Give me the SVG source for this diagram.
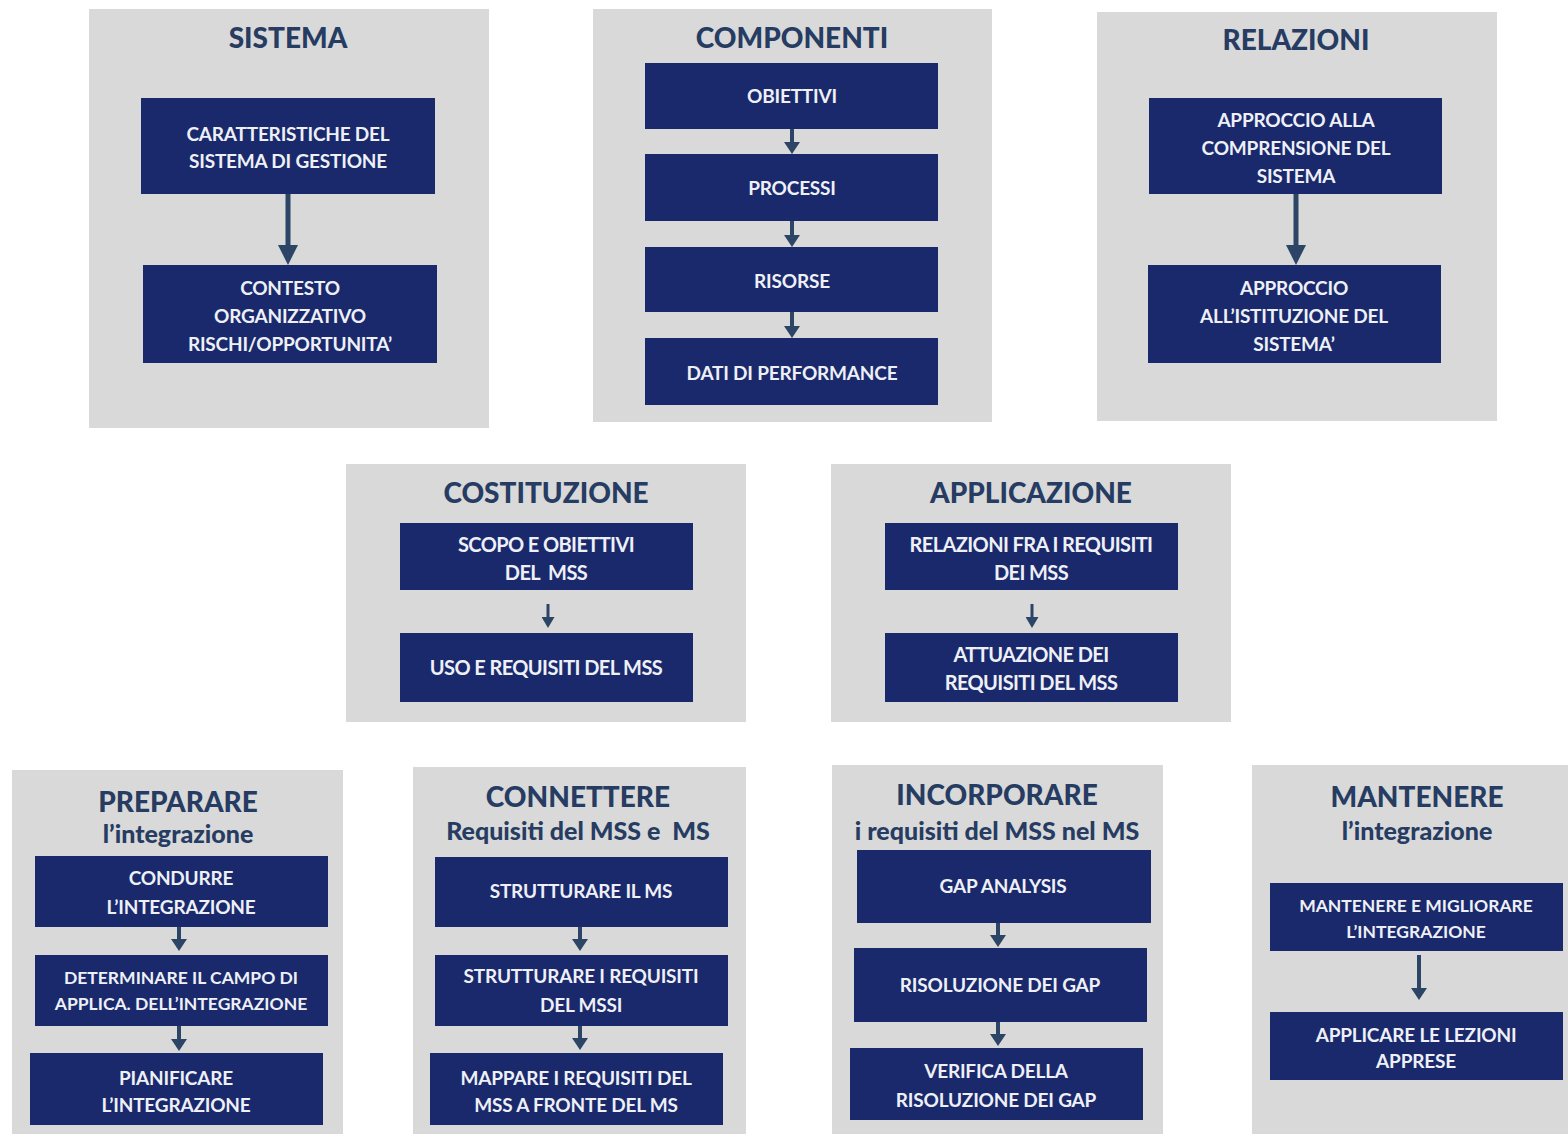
<svg xmlns="http://www.w3.org/2000/svg" width="1568" height="1134" viewBox="0 0 1568 1134">
<defs>
<style>
.panel{fill:#d9d9d9}
.box{fill:#19296b}
.title{font-family:Lato,"Open Sans",sans-serif;font-weight:900;font-size:28px;fill:#263c62;text-anchor:middle}
.sub{font-family:Lato,"Open Sans",sans-serif;font-weight:900;font-size:25px;fill:#263c62;text-anchor:middle}
.t{font-family:Lato,"Open Sans",sans-serif;font-weight:700;font-size:19px;fill:#eef0f6;text-anchor:middle;letter-spacing:-0.2px}
.tm{font-family:Lato,"Open Sans",sans-serif;font-weight:700;font-size:20px;fill:#eef0f6;text-anchor:middle;letter-spacing:-0.6px}
.ts{font-family:Lato,"Open Sans",sans-serif;font-weight:700;font-size:17.5px;fill:#eef0f6;text-anchor:middle}
.big{stroke:#2c4566;stroke-width:5;fill:none}
.sm{stroke:#2c4566;stroke-width:4;fill:none}
.tn{stroke:#2c4566;stroke-width:3;fill:none}
</style>
<marker id="hb" markerUnits="userSpaceOnUse" viewBox="0 0 20 20" markerWidth="20" markerHeight="20" refX="0" refY="10" orient="auto"><path d="M0,0 L20,10 L0,20 Z" fill="#2c4566"/></marker>
<marker id="hs" markerUnits="userSpaceOnUse" viewBox="0 0 12 16" markerWidth="12" markerHeight="16" refX="0" refY="8" orient="auto"><path d="M0,0 L12,8 L0,16 Z" fill="#2c4566"/></marker>
<marker id="ht" markerUnits="userSpaceOnUse" viewBox="0 0 11 13" markerWidth="11" markerHeight="13" refX="0" refY="6.5" orient="auto"><path d="M0,0 L11,6.5 L0,13 Z" fill="#2c4566"/></marker>
</defs>

<g id="panels">
<rect class="panel" x="89" y="9" width="400" height="419"/>
<rect class="panel" x="593" y="9" width="399" height="413"/>
<rect class="panel" x="1097" y="12" width="400" height="409"/>
<rect class="panel" x="346" y="464" width="400" height="258"/>
<rect class="panel" x="831" y="464" width="400" height="258"/>
<rect class="panel" x="12" y="770" width="331" height="364"/>
<rect class="panel" x="413" y="767" width="333" height="367"/>
<rect class="panel" x="832" y="765" width="331" height="369"/>
<rect class="panel" x="1252" y="765" width="316" height="369"/>
</g>

<g id="titles">
<text class="title" x="288" y="48">SISTEMA</text>
<text class="title" x="792" y="48">COMPONENTI</text>
<text class="title" x="1296" y="50">RELAZIONI</text>
<text class="title" x="546" y="503">COSTITUZIONE</text>
<text class="title" x="1031" y="503">APPLICAZIONE</text>
<text class="title" x="178" y="812">PREPARARE</text>
<text class="sub" x="178" y="843">l’integrazione</text>
<text class="title" x="578" y="807">CONNETTERE</text>
<text class="sub" x="578" y="840" xml:space="preserve">Requisiti del MSS e  MS</text>
<text class="title" x="997" y="805">INCORPORARE</text>
<text class="sub" x="997" y="840">i requisiti del MSS nel MS</text>
<text class="title" x="1417" y="807">MANTENERE</text>
<text class="sub" x="1417" y="840">l’integrazione</text>
</g>

<g id="connectors">
<line class="big" x1="288" y1="194" x2="288" y2="245" marker-end="url(#hb)"/>
<line class="big" x1="1296" y1="194" x2="1296" y2="245" marker-end="url(#hb)"/>
<line class="sm" x1="792" y1="129" x2="792" y2="142" marker-end="url(#hs)"/>
<line class="sm" x1="792" y1="221" x2="792" y2="235" marker-end="url(#hs)"/>
<line class="sm" x1="792" y1="312" x2="792" y2="326" marker-end="url(#hs)"/>
<line class="tn" x1="548" y1="604" x2="548" y2="617" marker-end="url(#ht)"/>
<line class="tn" x1="1032" y1="604" x2="1032" y2="617" marker-end="url(#ht)"/>
<line class="sm" x1="179" y1="927" x2="179" y2="939" marker-end="url(#hs)"/>
<line class="sm" x1="179" y1="1026" x2="179" y2="1039" marker-end="url(#hs)"/>
<line class="sm" x1="580" y1="927" x2="580" y2="939" marker-end="url(#hs)"/>
<line class="sm" x1="580" y1="1026" x2="580" y2="1038" marker-end="url(#hs)"/>
<line class="sm" x1="998" y1="923" x2="998" y2="935" marker-end="url(#hs)"/>
<line class="sm" x1="998" y1="1022" x2="998" y2="1034" marker-end="url(#hs)"/>
<line class="sm" x1="1419" y1="955" x2="1419" y2="988" marker-end="url(#hs)"/>
</g>

<g id="n-sistema-1"><rect class="box" x="141" y="98" width="294" height="96"/>
<text class="t" x="288" y="141">CARATTERISTICHE DEL</text>
<text class="t" x="288" y="168">SISTEMA DI GESTIONE</text></g>
<g id="n-sistema-2"><rect class="box" x="143" y="265" width="294" height="98"/>
<text class="t" x="290" y="295">CONTESTO</text>
<text class="t" x="290" y="323">ORGANIZZATIVO</text>
<text class="t" x="290" y="351">RISCHI/OPPORTUNITA’</text></g>

<g id="n-comp-1"><rect class="box" x="645" y="63" width="293" height="66"/>
<text class="t" x="792" y="103">OBIETTIVI</text></g>
<g id="n-comp-2"><rect class="box" x="645" y="154" width="293" height="67"/>
<text class="t" x="792" y="195">PROCESSI</text></g>
<g id="n-comp-3"><rect class="box" x="645" y="247" width="293" height="65"/>
<text class="t" x="792" y="288">RISORSE</text></g>
<g id="n-comp-4"><rect class="box" x="645" y="338" width="293" height="67"/>
<text class="t" x="792" y="380">DATI DI PERFORMANCE</text></g>

<g id="n-rel-1"><rect class="box" x="1149" y="98" width="293" height="96"/>
<text class="t" x="1296" y="127">APPROCCIO ALLA</text>
<text class="t" x="1296" y="155">COMPRENSIONE DEL</text>
<text class="t" x="1296" y="183">SISTEMA</text></g>
<g id="n-rel-2"><rect class="box" x="1148" y="265" width="293" height="98"/>
<text class="t" x="1294" y="295">APPROCCIO</text>
<text class="t" x="1294" y="323">ALL’ISTITUZIONE DEL</text>
<text class="t" x="1294" y="351">SISTEMA’</text></g>

<g id="n-cost-1"><rect class="box" x="400" y="523" width="293" height="67"/>
<text class="tm" x="546" y="552">SCOPO E OBIETTIVI</text>
<text class="tm" x="546" y="580" xml:space="preserve">DEL  MSS</text></g>
<g id="n-cost-2"><rect class="box" x="400" y="633" width="293" height="69"/>
<text class="tm" x="546" y="675">USO E REQUISITI DEL MSS</text></g>

<g id="n-appl-1"><rect class="box" x="885" y="523" width="293" height="67"/>
<text class="tm" x="1031" y="552">RELAZIONI FRA I REQUISITI</text>
<text class="tm" x="1031" y="580">DEI MSS</text></g>
<g id="n-appl-2"><rect class="box" x="885" y="633" width="293" height="69"/>
<text class="tm" x="1031" y="662">ATTUAZIONE DEI</text>
<text class="tm" x="1031" y="690">REQUISITI DEL MSS</text></g>

<g id="n-prep-1"><rect class="box" x="35" y="856" width="293" height="71"/>
<text class="t" x="181" y="885">CONDURRE</text>
<text class="t" x="181" y="914">L’INTEGRAZIONE</text></g>
<g id="n-prep-2"><rect class="box" x="35" y="955" width="293" height="71"/>
<text class="ts" x="181" y="984">DETERMINARE IL CAMPO DI</text>
<text class="ts" x="181" y="1010">APPLICA. DELL’INTEGRAZIONE</text></g>
<g id="n-prep-3"><rect class="box" x="30" y="1053" width="293" height="72"/>
<text class="t" x="176" y="1085">PIANIFICARE</text>
<text class="t" x="176" y="1112">L’INTEGRAZIONE</text></g>

<g id="n-conn-1"><rect class="box" x="435" y="857" width="293" height="70"/>
<text class="t" x="581" y="898">STRUTTURARE IL MS</text></g>
<g id="n-conn-2"><rect class="box" x="435" y="955" width="293" height="71"/>
<text class="t" x="581" y="983">STRUTTURARE I REQUISITI</text>
<text class="t" x="581" y="1012">DEL MSSI</text></g>
<g id="n-conn-3"><rect class="box" x="430" y="1053" width="293" height="72"/>
<text class="t" x="576" y="1085">MAPPARE I REQUISITI DEL</text>
<text class="t" x="576" y="1112">MSS A FRONTE DEL MS</text></g>

<g id="n-inc-1"><rect class="box" x="857" y="850" width="294" height="73"/>
<text class="t" x="1003" y="893">GAP ANALYSIS</text></g>
<g id="n-inc-2"><rect class="box" x="854" y="948" width="293" height="74"/>
<text class="t" x="1000" y="992">RISOLUZIONE DEI GAP</text></g>
<g id="n-inc-3"><rect class="box" x="850" y="1048" width="293" height="72"/>
<text class="t" x="996" y="1078">VERIFICA DELLA</text>
<text class="t" x="996" y="1107">RISOLUZIONE DEI GAP</text></g>

<g id="n-mant-1"><rect class="box" x="1270" y="883" width="293" height="68"/>
<text class="ts" x="1416" y="912">MANTENERE E MIGLIORARE</text>
<text class="ts" x="1416" y="938">L’INTEGRAZIONE</text></g>
<g id="n-mant-2"><rect class="box" x="1270" y="1012" width="293" height="68"/>
<text class="t" x="1416" y="1042">APPLICARE LE LEZIONI</text>
<text class="t" x="1416" y="1068">APPRESE</text></g>
</svg>
